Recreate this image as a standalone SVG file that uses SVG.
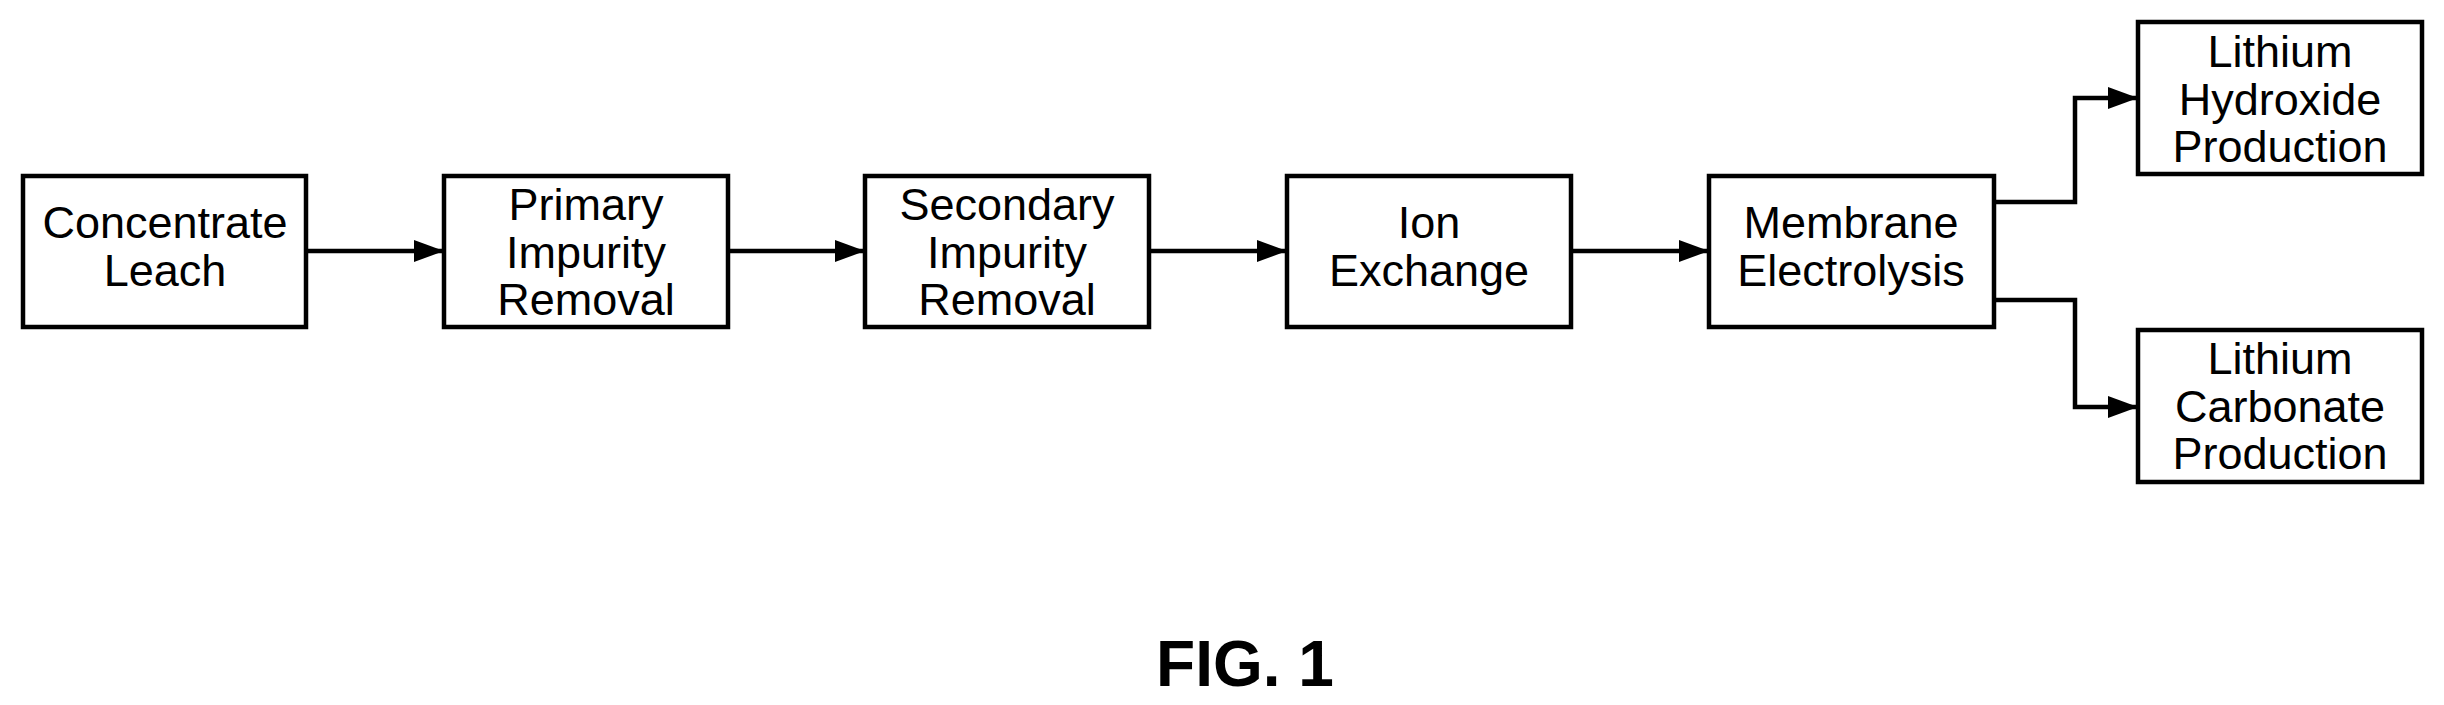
<svg xmlns="http://www.w3.org/2000/svg" width="2444" height="705" viewBox="0 0 2444 705">
<style>
.b{fill:#fff;stroke:#000;stroke-width:4.5}
.t{font-family:"Liberation Sans",Arial,sans-serif;font-size:45px;text-anchor:middle;fill:#000}
.c{fill:none;stroke:#000;stroke-width:4.5}
</style>
<defs>
<marker id="a" markerUnits="userSpaceOnUse" markerWidth="32" markerHeight="22" refX="30" refY="11" orient="auto">
<polygon points="0,0 30,11 0,22" fill="#000"/>
</marker>
</defs>
<rect width="2444" height="705" fill="#fff"/>
<g id="connectors">
<line class="c" x1="307" y1="251" x2="444" y2="251" marker-end="url(#a)"/>
<line class="c" x1="728" y1="251" x2="865" y2="251" marker-end="url(#a)"/>
<line class="c" x1="1149" y1="251" x2="1287" y2="251" marker-end="url(#a)"/>
<line class="c" x1="1571" y1="251" x2="1709" y2="251" marker-end="url(#a)"/>
<polyline class="c" points="1994,202 2075,202 2075,98 2138,98" marker-end="url(#a)"/>
<polyline class="c" points="1994,300 2075,300 2075,407 2138,407" marker-end="url(#a)"/>
</g>
<g id="n1"><rect class="b" x="23" y="176" width="283" height="151"/>
<text class="t" x="165" y="238">Concentrate</text><text class="t" x="165" y="286">Leach</text></g>
<g id="n2"><rect class="b" x="444" y="176" width="284" height="151"/>
<text class="t" x="586" y="220">Primary</text><text class="t" x="586" y="268">Impurity</text><text class="t" x="586" y="315">Removal</text></g>
<g id="n3"><rect class="b" x="865" y="176" width="284" height="151"/>
<text class="t" x="1007" y="220">Secondary</text><text class="t" x="1007" y="268">Impurity</text><text class="t" x="1007" y="315">Removal</text></g>
<g id="n4"><rect class="b" x="1287" y="176" width="284" height="151"/>
<text class="t" x="1429" y="238">Ion</text><text class="t" x="1429" y="286">Exchange</text></g>
<g id="n5"><rect class="b" x="1709" y="176" width="285" height="151"/>
<text class="t" x="1851" y="238">Membrane</text><text class="t" x="1851" y="286">Electrolysis</text></g>
<g id="n6"><rect class="b" x="2138" y="22" width="284" height="152"/>
<text class="t" x="2280" y="67">Lithium</text><text class="t" x="2280" y="115">Hydroxide</text><text class="t" x="2280" y="162">Production</text></g>
<g id="n7"><rect class="b" x="2138" y="330" width="284" height="152"/>
<text class="t" x="2280" y="374">Lithium</text><text class="t" x="2280" y="422">Carbonate</text><text class="t" x="2280" y="469">Production</text></g>
<text x="1245" y="686" font-family="Liberation Sans,Arial,sans-serif" font-size="64" font-weight="bold" text-anchor="middle">FIG. 1</text>
</svg>
